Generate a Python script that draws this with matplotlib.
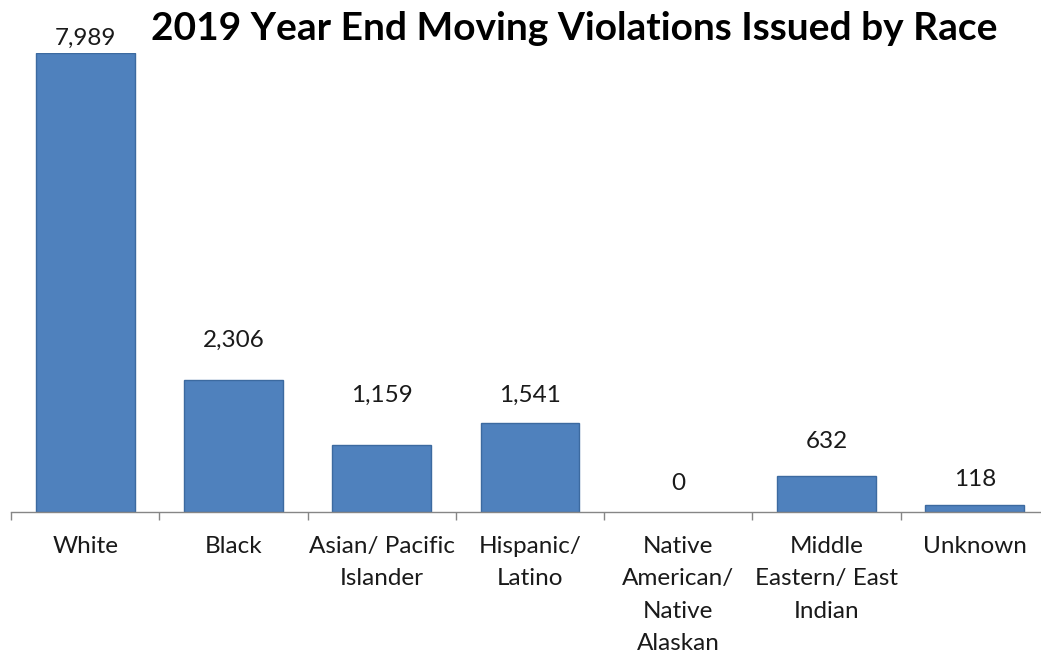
import matplotlib
matplotlib.use("Agg")
import matplotlib.pyplot as plt

categories = ["White", "Black", "Asian/ Pacific\nIslander", "Hispanic/\nLatino",
              "Native\nAmerican/\nNative\nAlaskan", "Middle\nEastern/ East\nIndian", "Unknown"]
violations = [7989, 2306, 1159, 1541, 0, 632, 118]
# vertical gap (pixels) between each bar top and the centre of its value label
label_gap_px = [15, 39, 50, 28, 28, 34, 26]

FONT = ["Lato", "DejaVu Sans"]
W, H, DPI = 1041, 656, 100

fig = plt.figure(figsize=(W / DPI, H / DPI), dpi=DPI)
ax = fig.add_axes([11 / W, 144 / H, 1038 / W, 459 / H])

x = list(range(len(categories)))
bars = ax.bar(x, violations, width=0.667, color="#4f81bd", edgecolor="#3c6aa0", linewidth=1.0)
for b, v in zip(bars, violations):
    if v == 0:
        b.set_linewidth(0)

ax.set_xlim(-0.5, len(categories) - 0.5)
ax.set_ylim(0, max(violations))

for spine in ("left", "right", "top"):
    ax.spines[spine].set_visible(False)
ax.spines["bottom"].set_color("#868686")
ax.spines["bottom"].set_linewidth(1.0)
ax.set_yticks([])

ax.set_xticks(x)
ax.set_xticklabels(categories, fontsize=17.5, family=FONT, color="#1a1a1a", linespacing=1.68)
ax.tick_params(axis="x", which="major", length=0, pad=17)
ax.set_xticks([i - 0.5 for i in range(len(categories) + 1)], minor=True)
ax.tick_params(axis="x", which="minor", length=6, width=1.0, color="#868686")
for lbl in ax.get_xticklabels():
    lbl.set_verticalalignment("top")

for xi, v, gap in zip(x, violations, label_gap_px):
    ax.annotate(f"{v:,}", (xi, v), xytext=(0, gap * 72 / DPI), textcoords="offset points",
                ha="center", va="center", fontsize=17.5, family=FONT, color="#1a1a1a",
                annotation_clip=False)

fig.text(574 / W, 1 - 29 / H, "2019 Year End Moving Violations Issued by Race",
         ha="center", va="center", fontsize=28, fontweight="bold", family=FONT, color="black")

fig.savefig("out.png", dpi=DPI, facecolor="white")
